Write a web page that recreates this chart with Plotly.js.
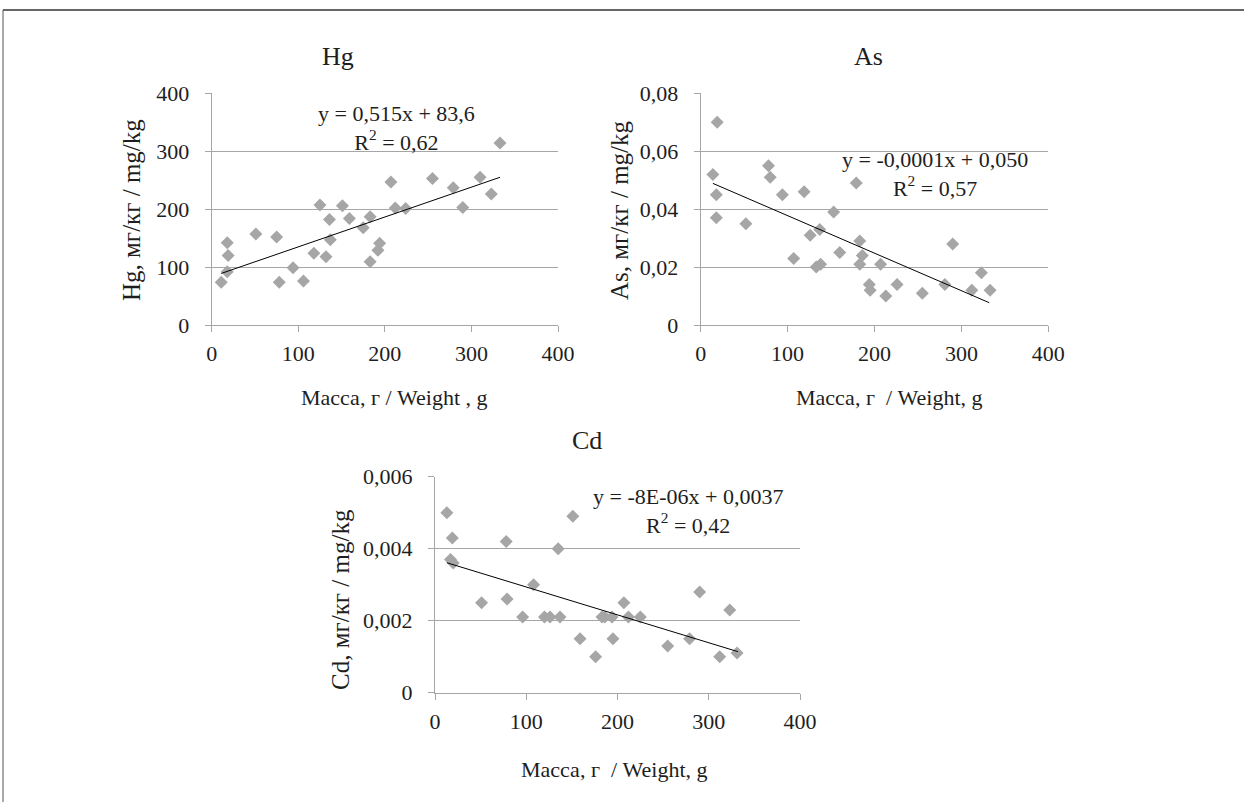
<!DOCTYPE html>
<html>
<head>
<meta charset="utf-8">
<script src="https://cdn.plot.ly/plotly-3.0.1.min.js"></script>
<style>
  html, body { margin: 0; padding: 0; background: #fff; }
  #chart { width: 1244px; height: 802px; }
</style>
</head>
<body>
<div id="chart"></div>
<script>
// ---- Data ----
const hgX = [11, 18, 19, 18, 51, 75, 78, 94, 106, 118, 125, 132, 136, 137, 151, 159, 175, 183, 183, 192, 194, 207, 212, 224, 255, 279, 290, 310, 323, 333];
const hgY = [74, 142, 120, 92, 157, 152, 74, 99, 76, 124, 207, 118, 182, 147, 206, 184, 168, 187, 109, 129, 141, 247, 202, 201, 253, 237, 203, 255, 226, 314];
const hgTrendX = [11, 333];
const hgTrendY = [89, 255];

const asX = [14, 19, 18, 18, 52, 78, 80, 94, 107, 119, 126, 133, 137, 138, 153, 160, 179, 183, 183, 186, 194, 195, 207, 213, 226, 255, 281, 290, 312, 323, 333];
const asY = [0.052, 0.070, 0.045, 0.037, 0.035, 0.055, 0.051, 0.045, 0.023, 0.046, 0.031, 0.020, 0.033, 0.021, 0.039, 0.025, 0.049, 0.029, 0.021, 0.024, 0.014, 0.012, 0.021, 0.010, 0.014, 0.011, 0.014, 0.028, 0.012, 0.018, 0.012];
const asTrendX = [14, 332];
const asTrendY = [0.0489, 0.0077];

const cdX = [13, 19, 17, 20, 51, 78, 79, 96, 108, 120, 126, 135, 137, 151, 159, 176, 183, 186, 194, 195, 207, 212, 225, 255, 279, 290, 312, 323, 331];
const cdY = [0.0050, 0.0043, 0.0037, 0.0036, 0.0025, 0.0042, 0.0026, 0.0021, 0.0030, 0.0021, 0.0021, 0.0040, 0.0021, 0.0049, 0.0015, 0.0010, 0.0021, 0.0021, 0.0021, 0.0015, 0.0025, 0.0021, 0.0021, 0.0013, 0.0015, 0.0028, 0.0010, 0.0023, 0.0011];
const cdTrendX = [13, 332];
const cdTrendY = [0.00361, 0.00114];

const xTickVals = [0, 100, 200, 300, 400];
const xTickText = ['0', '100', '200', '300', '400'];
const hgTickVals = [0, 100, 200, 300, 400];
const hgTickText = ['0', '100', '200', '300', '400'];
const asTickVals = [0, 0.02, 0.04, 0.06, 0.08];
const asTickText = ['0', '0,02', '0,04', '0,06', '0,08'];
const cdTickVals = [0, 0.002, 0.004, 0.006];
const cdTickText = ['0', '0,002', '0,004', '0,006'];

const titles = ['Hg', 'As', 'Cd'];
const yTitles = ['Hg, мг/кг / mg/kg', 'As, мг/кг / mg/kg', 'Cd, мг/кг / mg/kg'];
const xTitles = ['Масса, г / Weight , g', 'Масса, г  / Weight, g', 'Масса, г  / Weight, g'];
const equations = ['y = 0,515x + 83,6<br>R<sup>2</sup> = 0,62', 'y = -0,0001x + 0,050<br>R<sup>2</sup> = 0,57', 'y = -8E-06x + 0,0037<br>R<sup>2</sup> = 0,42'];

// ---- Styling ----
const W = 1244, H = 802;
const FONT = 'Liberation Serif, Times New Roman, serif';
const TXT = '#1e1e1e';
const GRID = '#a6a6a6';
const MARK = '#a6a6a6';
const px = v => v / W;
const py = v => 1 - v / H;

function scatter(x, y, xa, ya) {
  return { type: 'scatter', mode: 'markers', x: x, y: y, xaxis: xa, yaxis: ya,
    marker: { symbol: 'diamond', size: 10, color: MARK, line: { width: 0 } },
    hoverinfo: 'x+y', showlegend: false };
}
function trend(x, y, xa, ya) {
  return { type: 'scatter', mode: 'lines', x: x, y: y, xaxis: xa, yaxis: ya,
    line: { color: '#000', width: 1 }, hoverinfo: 'skip', showlegend: false };
}

const data = [
  scatter(hgX, hgY, 'x', 'y'), trend(hgTrendX, hgTrendY, 'x', 'y'),
  scatter(asX, asY, 'x2', 'y2'), trend(asTrendX, asTrendY, 'x2', 'y2'),
  scatter(cdX, cdY, 'x3', 'y3'), trend(cdTrendX, cdTrendY, 'x3', 'y3')
];

function xaxis(dom, anchor) {
  return { domain: dom, anchor: anchor, range: [0, 400], tickvals: xTickVals, ticktext: xTickText,
    showgrid: false, zeroline: false, showline: true, linecolor: GRID, linewidth: 1,
    ticks: 'outside', ticklen: 6, tickcolor: GRID, tickwidth: 1, ticklabelstandoff: 3,
    tickfont: { family: FONT, size: 22, color: TXT }, fixedrange: true };
}
function yaxis(dom, anchor, range, tv, tt) {
  return { domain: dom, anchor: anchor, range: range, tickvals: tv, ticktext: tt,
    showgrid: true, gridcolor: GRID, gridwidth: 1, zeroline: false,
    showline: true, linecolor: GRID, linewidth: 1,
    ticks: 'outside', ticklen: 6, tickcolor: GRID, tickwidth: 1, ticklabelstandoff: 11,
    tickfont: { family: FONT, size: 22, color: TXT }, fixedrange: true };
}

const topY = [py(325), py(93.3)];
const botY = [py(692.7), py(476.7)];

function ann(text, x, y, size, extra) {
  return Object.assign({ text: text, x: px(x), y: py(y), xref: 'paper', yref: 'paper',
    xanchor: 'center', yanchor: 'middle', showarrow: false,
    font: { family: FONT, size: size, color: TXT } }, extra || {});
}

const annotations = [
  ann(titles[0], 338, 57, 26), ann(titles[1], 868, 57, 26), ann(titles[2], 587, 440, 26),
  ann(yTitles[0], 131, 210, 25, { textangle: -90 }),
  ann(yTitles[1], 619, 210, 25, { textangle: -90 }),
  ann(yTitles[2], 340, 600, 25, { textangle: -90 }),
  ann(xTitles[0], 394, 397, 22), ann(xTitles[1], 889, 397, 22), ann(xTitles[2], 614, 769, 22),
  ann(equations[0], 397, 128, 22), ann(equations[1], 935, 174, 22), ann(equations[2], 688, 511, 22)
];

const layout = {
  width: W, height: H, margin: { l: 0, r: 0, t: 0, b: 0 },
  paper_bgcolor: '#fff', plot_bgcolor: 'rgba(0,0,0,0)',
  font: { family: FONT, size: 22, color: TXT },
  showlegend: false,
  xaxis: xaxis([px(211.7), px(558)], 'y'),
  yaxis: yaxis(topY, 'x', [0, 400], hgTickVals, hgTickText),
  xaxis2: xaxis([px(700.7), px(1048.3)], 'y2'),
  yaxis2: yaxis(topY, 'x2', [0, 0.08], asTickVals, asTickText),
  xaxis3: xaxis([px(435), px(800)], 'y3'),
  yaxis3: yaxis(botY, 'x3', [0, 0.006], cdTickVals, cdTickText),
  annotations: annotations,
  shapes: [
    { type: 'line', xref: 'paper', yref: 'paper', x0: px(3), x1: 1, y0: py(10), y1: py(10), line: { color: '#333', width: 1.5 } },
    { type: 'line', xref: 'paper', yref: 'paper', x0: px(3), x1: px(3), y0: py(10), y1: 0, line: { color: '#555', width: 1 } }
  ]
};

Plotly.newPlot('chart', data, layout, { displayModeBar: false, staticPlot: true });
</script>
</body>
</html>
